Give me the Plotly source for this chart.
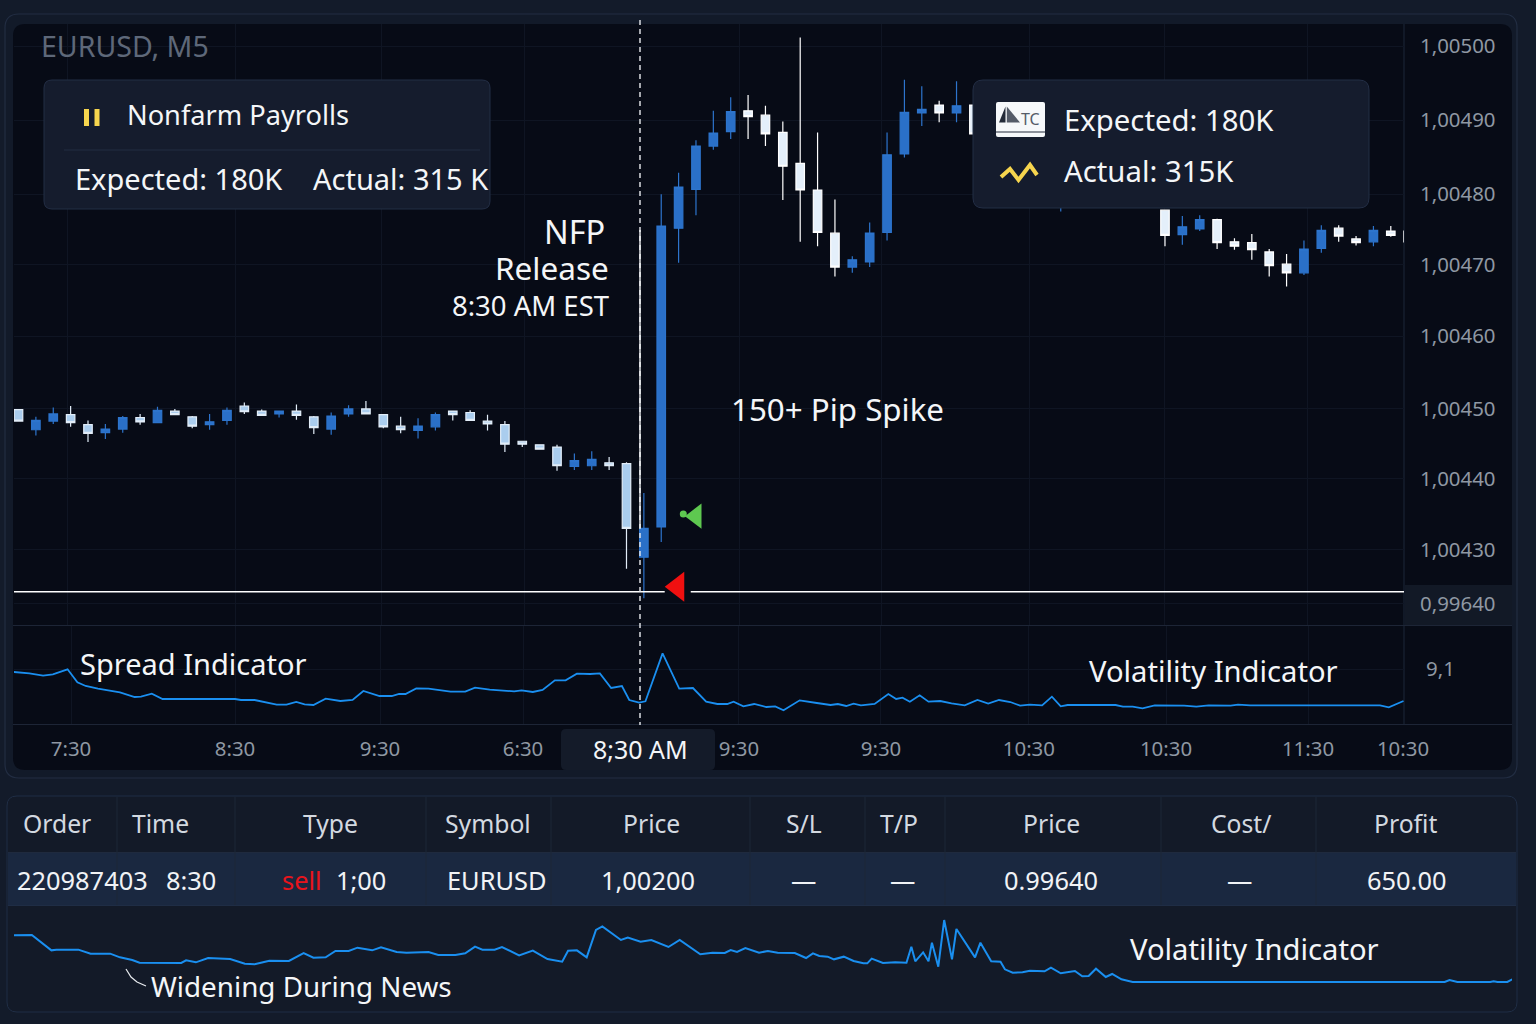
import numpy as np
import plotly.graph_objects as go

W, H = 1536, 1024
FONT = "Noto Sans"

# ---- candle data, price points above 1.00000 (1 point = 0.00001) ----
bar_open = [449.5,446.7,447.9,448.8,447.4,446.3,446.8,448.4,447.7,449.3,448.5,447.4,448.0,450.0,449.3,448.9,449.3,448.5,446.8,448.9,449.6,448.8,447.2,446.6,447.1,449.3,449.1,447.9,447.4,445.1,444.6,444.3,441.6,441.7,442.1,442.0,429.0,
            433.2,474.7,480.1,486.1,488.1,491.0,490.4,488.0,483.7,480.0,474.0,469.3,470.0,474.1,485.0,490.7,491.8,490.7,491.8,489,491,487,490,483,486,482,485,480,483,
            477.2,473.8,474.6,475.9,472.8,472.7,471.4,469.7,468.5,471.9,474.7,473.2,472.8,474.3,474.3]
bar_high = [449.5,448.5,449.8,450.0,448.0,447.5,448.6,448.9,449.9,449.6,448.6,448.9,449.8,450.5,449.5,449.3,450.2,448.6,449.1,450.1,450.7,448.9,448.5,448.3,449.1,449.3,449.4,448.8,447.9,445.1,444.6,444.6,443.4,443.7,442.9,442.2,437.9,
            479.4,482.4,486.9,491.0,492.9,493.2,491.7,489.5,501.2,488.0,478.7,470.8,475.5,488.0,495.3,494.4,492.4,495.1,491.8,493,492,492,491,488,487,487,486,485,484,
            477.2,476.4,476.5,476.0,473.3,473.9,471.8,471.1,473.0,475.1,475.1,473.6,475.0,475.0,474.3]
bar_low = [447.9,445.9,447.5,447.1,445.0,445.4,446.3,447.4,447.7,448.8,446.9,446.7,447.4,448.9,448.7,448.4,448.1,446.1,446.0,448.5,448.9,446.9,446.2,445.5,446.6,448.0,448.0,446.6,443.6,444.3,444.0,441.0,441.1,441.1,441.1,427.4,423.3,
           431.1,469.9,476.5,485.6,487.1,487.1,486.1,478.6,472.8,472.2,468.0,468.5,469.3,473.0,484.5,488.9,489.4,489.4,487.8,487,486,485,484,477.0,481,480,480,479,478,
           472.2,472.4,474.3,471.8,471.7,470.3,468.0,466.6,468.2,471.3,472.8,472.3,472.2,473.5,472.6]
bar_close = [447.9,448.0,448.9,447.7,446.2,446.8,448.4,447.8,449.4,448.8,447.2,447.8,449.4,449.2,448.7,449.3,448.7,447.0,448.6,449.6,448.9,447.1,446.7,447.2,448.8,448.8,448.0,447.5,444.7,444.7,444.0,441.7,442.4,442.6,441.7,433.0,433.0,
             475.0,480.4,486.1,487.9,490.9,490.2,487.8,483.3,480.0,474.1,469.3,470.3,474.0,484.9,490.8,491.2,490.7,491.7,487.8,491,488,490,486,486,483,485,481,483,479,
             473.7,474.9,475.9,472.7,472.2,471.7,469.5,468.5,471.8,474.4,473.6,472.7,474.4,473.7,472.8]

# ---- price axis: tick position (points) and label as printed ----
price_tick_pts = [500.0,489.7,479.4,469.6,459.7,449.6,439.9,430.0,422.5]
price_tick_txt = ["1,00500","1,00490","1,00480","1,00470","1,00460","1,00450","1,00440","1,00430","0,99640"]
stop_level_pts = 424.2

# ---- spread line, sample time (s) and value ----
spread_t = [28,60,88,108,138,158,175,200,245,275,288,310,332,480,492,520,565,585,605,622,640,665,695,720,742,775,800,815,828,850,875,920,950,970,1000,1050,1065,1088,1108,1133,1155,1178,1205,1225,1248,1270,1285,1305,1318,1353,1387,1415,1442,1465,1485,1498,1518,1540,1565,
            1583,1600,1633,1668,1696,1711,1728,1743,1758,1786,1814,1830,1843,1858,1878,1896,1920,1943,1970,1996,2018,2040,2063,2083,2103,2128,2148,2166,2180,2278,2293,2313,2333,2358,2418,2443,2468,2513,2528,2553,2818,2836,2866]
spread_v = [9.01,8.97,8.90,8.94,9.09,8.70,8.59,8.51,8.40,8.26,8.27,8.36,8.20,8.20,8.17,8.17,8.03,8.03,8.11,8.04,8.02,8.21,8.14,8.17,8.44,8.29,8.29,8.35,8.35,8.52,8.51,8.42,8.42,8.54,8.48,8.43,8.46,8.41,8.47,8.76,8.76,8.96,8.95,8.97,8.53,8.59,8.17,8.09,8.13,9.57,8.51,8.53,8.12,8.05,8.05,8.12,7.98,8.05,7.96,
            7.98,7.86,8.16,8.08,8.02,8.05,7.99,8.06,8.01,8.05,8.35,8.20,8.24,8.12,8.31,8.12,8.14,8.07,8.01,8.17,8.06,8.17,8.11,8.00,8.03,8.01,8.27,7.98,8.02,8.02,7.97,7.97,7.92,8.01,8.00,7.97,8.01,8.00,8.03,8.01,8.01,7.95,8.14]

# ---- volatility line ----
vol_t = [28,65,105,115,160,185,225,245,270,285,370,380,400,425,470,500,520,550,590,620,640,665,685,712,730,760,778,810,830,875,895,930,950,970,985,1010,1025,1060,1088,1118,1148,1160,1178,1198,1217,1230,1268,1282,1308,1330,1365,1388,1430,1455,1480,1492,1505,1522,1550,1568,
         1588,1623,1646,1660,1673,1690,1703,1723,1743,1763,1771,1780,1803,1828,1851,1861,1869,1885,1896,1903,1916,1928,1944,1953,1991,2002,2024,2043,2052,2068,2088,2103,2133,2146,2166,2195,2210,2223,2238,2258,2271,2290,2313,2950,2960,2976,3043,3050,3058,3078,3088]
vol_v = [2.94,2.95,2.49,2.51,2.51,2.39,2.39,2.28,2.20,2.12,2.11,2.19,2.13,2.26,2.23,2.09,2.07,2.18,2.17,2.41,2.27,2.28,2.47,2.47,2.57,2.49,2.58,2.44,2.42,2.44,2.35,2.35,2.40,2.60,2.51,2.51,2.59,2.34,2.48,2.23,2.15,2.48,2.49,2.28,3.10,3.21,2.80,2.87,2.75,2.80,2.59,2.80,2.37,2.42,2.41,2.50,2.44,2.56,2.42,2.47,
         2.42,2.41,2.26,2.40,2.32,2.30,2.22,2.30,2.17,2.10,2.10,2.24,2.11,2.13,2.12,2.60,2.16,2.43,2.16,2.72,2.00,3.40,2.22,3.13,2.28,2.72,2.16,2.15,1.92,1.82,1.83,1.88,1.86,1.97,1.80,1.87,1.71,1.72,1.94,1.69,1.78,1.62,1.54,1.54,1.60,1.54,1.54,1.56,1.54,1.54,1.62]

# ---- time axis ----
time_tick_t = [145,480,776,1068,1307,1509,1799,2101,2381,2671,2865]
time_tick_txt = ["7:30","8:30","9:30","6:30","","9:30","9:30","10:30","10:30","11:30","10:30"]

# ---- order table ----
table_cols = ["Order","Time","Type","Symbol","Price","S/L","T/P","Price","Cost/","Profit"]
table_cols_cx = [57,160,330,488,651,804,899,1051,1241,1405]
table_row = ["220987403","8:30","sell","1;00","EURUSD","1,00200","—","—","0.99640","—","650.00"]
table_row_cx = [82,191,302,361,497,648,803,902,1051,1239,1406]
table_div_x = [117,235,426,551,750,865,945,1161,1316]


# ---- helpers: panel furniture in page pixels ----
def px(x): return x / W
def py(y): return 1 - y / H

def rrect(x0, y0, x1, y1, r, fill, line=None, layer="below", lw=1):
    a, b, c, d = px(x0), px(x1), py(y0), py(y1)
    rx, ry = r / W, r / H
    p = (f"M{a+rx},{c} L{b-rx},{c} Q{b},{c} {b},{c-ry} L{b},{d+ry} Q{b},{d} {b-rx},{d} "
         f"L{a+rx},{d} Q{a},{d} {a},{d+ry} L{a},{c-ry} Q{a},{c} {a+rx},{c} Z")
    return dict(type="path", path=p, xref="paper", yref="paper", fillcolor=fill, layer=layer,
                line=dict(color=line or "rgba(0,0,0,0)", width=lw))

def hline(y, x0, x1, color, lw=1, layer="below"):
    return dict(type="line", xref="paper", yref="paper", x0=px(x0), x1=px(x1), y0=py(y), y1=py(y),
                line=dict(color=color, width=lw), layer=layer)

def vline(x, y0, y1, color, lw=1, layer="below", dash="solid"):
    return dict(type="line", xref="paper", yref="paper", x0=px(x), x1=px(x), y0=py(y0), y1=py(y1),
                line=dict(color=color, width=lw, dash=dash), layer=layer)

def poly(pts, color=None, fill=None, lw=1, layer="above", closed=False):
    p = "M" + " L".join(f"{px(a)},{py(b)}" for a, b in pts) + (" Z" if closed else "")
    return dict(type="path", path=p, xref="paper", yref="paper", layer=layer,
                fillcolor=fill or "rgba(0,0,0,0)", line=dict(color=color or "rgba(0,0,0,0)", width=lw))

def label(text, x, y, size, color="#f4f6f8", anchor="left"):
    nudge = {"left": -2.5, "right": 2.5, "center": 0}[anchor]
    return dict(text=text, x=px(x + nudge), y=py(y - 1.2), xref="paper", yref="paper", showarrow=False,
                xanchor=anchor, yanchor="middle", font=dict(family=FONT, size=size, color=color))

PAGE = "#131b2a"
PLOT = "#070b16"
EDGE = "#222d42"
BOX = "#151c2d"
BOX_EDGE = "#232e45"
YEL = "#f6d54e"
BLUE = "#2a70c8"

idx = np.arange(len(bar_open))
to_price = lambda a: 1 + np.array(a, dtype=float) * 1e-5
n_pre = 37

fig = go.Figure()
for sel, fill, edge in ((idx[:n_pre], "#aacdee", "#e2edf8"), (idx[n_pre:], "#e4effa", "#ffffff")):
    s, e = sel[0], sel[-1] + 1
    fig.add_trace(go.Candlestick(
        x=idx[s:e], open=to_price(bar_open[s:e]), high=to_price(bar_high[s:e]),
        low=to_price(bar_low[s:e]), close=to_price(bar_close[s:e]),
        increasing=dict(line=dict(color="#2d74cc", width=1.2), fillcolor=BLUE),
        decreasing=dict(line=dict(color=edge, width=1.2), fillcolor=fill),
        xaxis="x", yaxis="y", showlegend=False, hoverinfo="skip"))

# stop line with the gap around the red marker
fig.add_trace(go.Scatter(x=[-0.26, 37.2, None, 38.7, 79.76],
                         y=to_price([stop_level_pts] * 2).tolist() + [None] + to_price([stop_level_pts] * 2).tolist(),
                         mode="lines", line=dict(color="#ffffff", width=1.3), xaxis="x", yaxis="y",
                         showlegend=False, hoverinfo="skip"))
fig.add_trace(go.Scatter(x=[37.95], y=to_price([424.9]), mode="markers", xaxis="x", yaxis="y",
                         marker=dict(symbol="triangle-left", size=26, color="#f01010", line=dict(width=0)),
                         showlegend=False, hoverinfo="skip"))
fig.add_trace(go.Scatter(x=[39.0, 38.27], y=to_price([434.7, 435.0]), mode="markers", xaxis="x", yaxis="y",
                         marker=dict(symbol=["triangle-left", "circle"], size=[22, 7], color="#5ec850",
                                     opacity=1, line=dict(width=0)),
                         showlegend=False, hoverinfo="skip"))

fig.add_trace(go.Scatter(x=spread_t, y=spread_v, mode="lines", line=dict(color="#1a8ff0", width=1.8),
                         xaxis="x2", yaxis="y2", showlegend=False, hoverinfo="skip"))
fig.add_trace(go.Scatter(x=vol_t, y=vol_v, mode="lines", line=dict(color="#1a8ff0", width=2),
                         xaxis="x3", yaxis="y3", showlegend=False, hoverinfo="skip"))

GRID = "#0f1523"
shapes = [
    # chart card
    rrect(5, 14, 1517, 778, 14, "#121a29", EDGE, lw=1.2),
    rrect(13, 24, 1512, 770, 12, PLOT),
    # right-hand column highlight for the last-price label
    dict(type="rect", xref="paper", yref="paper", x0=px(1405), x1=px(1512), y0=py(585), y1=py(625),
         fillcolor="#121926", line=dict(width=0), layer="below"),
    vline(1404, 24, 724, "#1a2334", 1.2),
    hline(625.5, 13, 1512, "#1d2536", 1.2),
    hline(724.5, 13, 1512, "#1d2536", 1.2),
    # time pill
    rrect(561, 729, 715, 770, 5, "#141b29"),
    # table card
    rrect(7, 796, 1517, 1012, 10, "#131a28", "#1f2d45"),
    dict(type="rect", xref="paper", yref="paper", x0=px(8), x1=px(1516), y0=py(853), y1=py(905),
         fillcolor="#1a2840", line=dict(width=0), layer="below"),
    hline(852.5, 8, 1516, "#1f2a3e"),
    hline(905.5, 8, 1516, "#1f2d45"),
    # news line
    vline(640, 20, 725, "#e8ebef", 1.4, layer="above", dash="5px,4px"),
    vline(640, 230, 528, "#f4f6f8", 1.4, layer="above"),
    # info boxes
    rrect(44, 80, 490, 209, 8, BOX, BOX_EDGE, layer="above"),
    hline(150, 64, 480, "#222c42", layer="above"),
    rrect(973, 80, 1369, 208, 10, BOX, BOX_EDGE, layer="above"),
    # pause icon
    vline(86.5, 109, 126, YEL, 5, layer="above"),
    vline(97, 109, 126, YEL, 5, layer="above"),
    # TC icon
    rrect(996, 102, 1045, 137, 2, "#f6f8fa", None, layer="above"),
    hline(132, 996, 1045, "#222a3a", 1.2, layer="above"),
    poly([(1005.5, 106.5), (999, 122.5), (1005.5, 122.5)], fill="#232a38", closed=True),
    poly([(1006.8, 106.5), (1006.8, 122.5), (1020, 122.5)], fill="#545b68", closed=True),
    # zigzag icon
    poly([(1001, 177), (1010, 169), (1018.5, 180), (1030, 165), (1037, 175)], color=YEL, lw=4),
    # pointer stroke
    poly([(126, 969), (131, 977), (137, 982), (146, 986)], color="#e8ebef", lw=1.2),
]
for x in table_div_x:
    shapes.append(vline(x, 797, 905, "#1c2637"))

ann = [
    label("EURUSD, M5", 41, 47, 28.5, "#5e6879"),
    label("Nonfarm Payrolls", 127, 116, 27.2),
    label("Expected: 180K", 75, 180, 29),
    label("Actual: 315 K", 313, 180, 29),
    label("NFP", 604, 233, 32.5, anchor="right"),
    label("Release", 608, 269, 31.5, anchor="right"),
    label("8:30 AM EST", 608, 307, 27.5, anchor="right"),
    label("150+ Pip Spike", 731, 410, 31.3),
    label("Expected: 180K", 1064, 121, 29.3),
    label("Actual: 315K", 1064, 172, 29.3),
    label("TC", 1030, 120, 16, "#555c68", anchor="center"),
    label("Spread Indicator", 80, 665, 29),
    label("Volatility Indicator", 1089, 672, 29.2),
    label("Volatility Indicator", 1130, 950, 29.2),
    label("Widening During News", 151, 987, 27.8),
    label("8;30 AM", 640, 750, 25, anchor="center"),
]
for txt, cx in zip(table_cols, table_cols_cx):
    ann.append(label(txt, cx, 825, 24.7, "#d3d9e0", anchor="center"))
for txt, cx in zip(table_row, table_row_cx):
    ann.append(label(txt, cx, 881, 25.4, "#e8141c" if txt == "sell" else "#f1f3f6", anchor="center"))

tickfont = dict(family=FONT, size=20.4, color="#8f98a3")
clear = "rgba(0,0,0,0)"
fig.update_layout(
    width=W, height=H, margin=dict(l=0, r=0, t=0, b=0), autosize=False,
    paper_bgcolor=PAGE, plot_bgcolor=clear, showlegend=False, boxgap=0.3,
    shapes=shapes, annotations=ann,
    xaxis=dict(domain=[px(14), px(1404)], range=[-0.26, 79.76], anchor="y", rangeslider=dict(visible=False),
               showticklabels=False, ticks="", showgrid=True, gridcolor=GRID, zeroline=False, automargin=False,
               tickvals=[2.8, 12.5, 20.9, 29.1, 41.5, 49.7, 58.2, 66.0, 74.2]),
    yaxis=dict(domain=[py(625), py(24)], range=[1 + 419.58e-5, 1 + 503.06e-5], anchor="x", side="right",
               tickvals=to_price(price_tick_pts), ticktext=price_tick_txt, ticks="outside", ticklen=11,
               tickcolor=clear, tickfont=tickfont, showgrid=True, gridcolor=GRID, zeroline=False, automargin=False),
    xaxis2=dict(domain=[px(14), px(1404)], range=[28.6, 2867], anchor="y2", tickvals=time_tick_t,
                ticktext=time_tick_txt, ticks="outside", ticklen=7, tickcolor=clear, tickfont=tickfont,
                showgrid=True, gridcolor=GRID, zeroline=False, automargin=False),
    yaxis2=dict(domain=[py(724), py(626)], range=[7.45, 10.39], anchor="x2", side="right", tickvals=[9.1],
                ticktext=["9,1"], ticks="outside", ticklen=17, tickcolor=clear, tickfont=tickfont,
                showgrid=True, gridcolor=GRID, zeroline=False, automargin=False),
    xaxis3=dict(domain=[px(14), px(1512)], range=[28.6, 3087.5], anchor="y3", visible=False, automargin=False),
    yaxis3=dict(domain=[py(1012), py(906)], range=[0.64, 3.82], anchor="x3", visible=False, automargin=False),
)

fig.write_html("out.html", config=dict(displayModeBar=False),
               post_script="document.body.style.margin='0';document.body.style.background='" + PAGE + "';")
